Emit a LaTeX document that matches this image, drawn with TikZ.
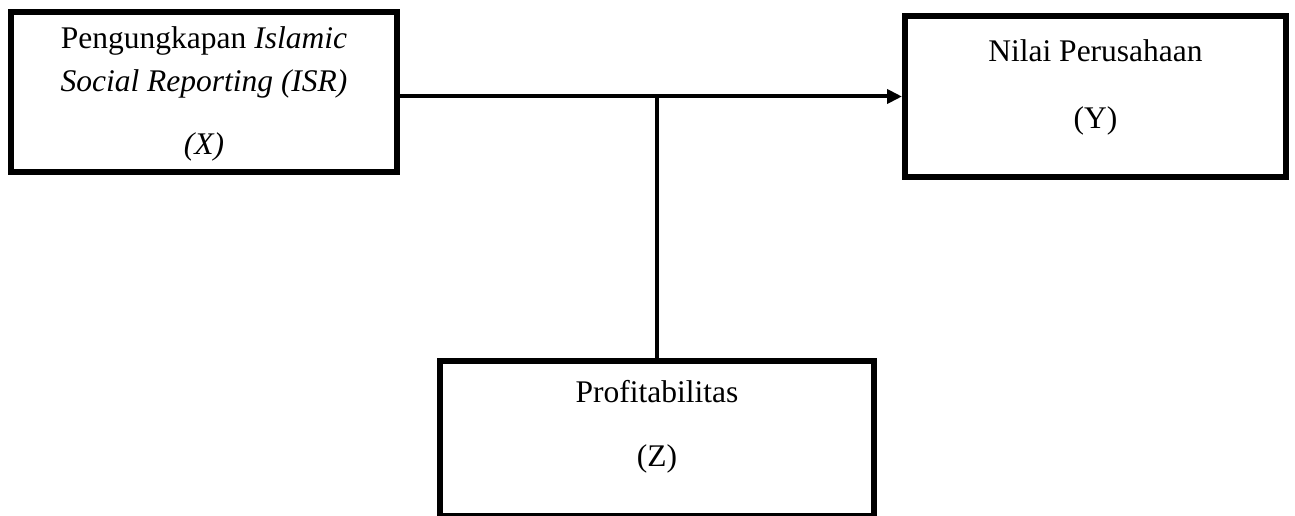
\documentclass[tikz,border=0pt]{standalone}
\usepackage{fontspec}
\setmainfont{Liberation Serif}
\usetikzlibrary{arrows.meta}
\begin{document}
\begin{tikzpicture}[x=1pt, y=-1pt]
            \tikzset{box/.style={draw, line width=6pt, align=center, inner sep=0pt, font=\fontsize{31.5}{43}\selectfont}}
            \tikzset{link/.style={line width=4pt}}
            \useasboundingbox (0, 0) rectangle (1295, 516);
            \clip (0, 0) rectangle (1295, 516);
            \node[box, minimum width=386pt, minimum height=160pt, text depth=2pt] (X) at (204, 92) {Pengungkapan \textit{Islamic}\\ \textit{Social Reporting (ISR)}\\[20pt] \textit{(X)}};
            \node[box, minimum width=381pt, minimum height=161pt, text depth=25pt] (Y) at (1095.5, 96.5) {Nilai Perusahaan\\[24pt] (Y)};
            \node[box, minimum width=434pt, minimum height=155pt, text depth=30pt] (Z) at (657, 438.5) {Profitabilitas\\[21pt] (Z)};
            \draw[link, -{Triangle[length=15pt, width=14pt]}] (X.east |- Y.west) -- (Y.west);
            \draw[link] (Z.north) -- (Z.north |- Y.west);
        \end{tikzpicture}
\end{document}
